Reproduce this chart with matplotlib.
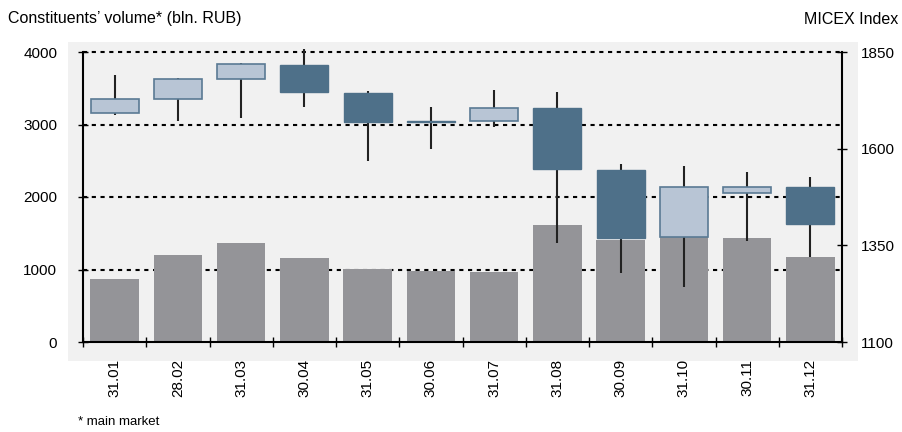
import matplotlib
matplotlib.use('Agg')
import matplotlib.pyplot as plt
import numpy as np
from matplotlib.patches import Rectangle

plt.rcParams['font.family'] = ['Liberation Sans', 'DejaVu Sans']

# ============================================================
# data
# ============================================================
dates = ['31.01', '28.02', '31.03', '30.04', '31.05', '30.06',
         '31.07', '31.08', '30.09', '31.10', '30.11', '31.12']
volume = [870, 1200, 1365, 1160, 1010, 980, 965, 1615, 1405, 1545, 1435, 1170]

idx_open = [1691, 1729, 1781, 1816, 1744, 1671, 1671, 1705, 1545, 1371, 1486, 1501]
idx_close = [1728, 1779, 1818, 1747, 1670, 1669, 1706, 1548, 1370, 1501, 1501, 1406]
idx_high = [1790, 1783, 1822, 1857, 1748, 1707, 1752, 1746, 1560, 1554, 1540, 1527]
idx_low = [1687, 1672, 1680, 1707, 1569, 1600, 1655, 1356, 1279, 1241, 1362, 1320]

vol_ticks = [0, 1000, 2000, 3000, 4000]
idx_ticks = [1100, 1350, 1600, 1850]

BG = '#f1f1f1'
GRAY = '#949498'
DARK = '#4e7089'
LIGHT = '#b8c5d5'
LIGHT_EDGE = '#5a7a94'

fig = plt.figure(figsize=(9.02, 4.32), dpi=100)
fig.patches.append(Rectangle((68 / 902, 71 / 432), 790 / 902, 319 / 432,
                             transform=fig.transFigure, facecolor=BG,
                             edgecolor='none', zorder=-5))

ax = fig.add_axes([83 / 902, 90 / 432, 759 / 902, 290 / 432])
ax.set_facecolor(BG)
x = np.arange(len(dates))

# volume bars
ax.bar(x, volume, width=0.77, color=GRAY, zorder=2)
ax.set_xlim(-0.5, len(dates) - 0.5)
ax.set_ylim(0, 4000)
ax.set_yticks(vol_ticks)
ax.set_yticklabels([str(v) for v in vol_ticks], fontsize=11)
ax.set_axisbelow(True)
for v in vol_ticks[1:]:
    ax.axhline(v, color='black', linestyle=(0, (2, 2.2)), linewidth=1.5,
               zorder=1, clip_on=False)

ax.set_xticks(np.arange(-0.5, len(dates), 1.0))
ax.set_xticklabels([])
ax.set_xticks(x, minor=True)
ax.set_xticklabels(dates, minor=True, rotation=90, fontsize=11)
ax.tick_params(axis='x', which='major', direction='inout', length=7, width=1)
ax.tick_params(axis='x', which='minor', length=0, pad=12)
ax.tick_params(axis='y', direction='inout', length=7, width=1, pad=15)
for s in ['top', 'right']:
    ax.spines[s].set_visible(False)
ax.spines['left'].set_linewidth(1.5)
ax.spines['bottom'].set_linewidth(1.5)

# candles on the index axis
ax2 = ax.twinx()
ax2.set_ylim(1100, 1850)
ax2.set_yticks(idx_ticks)
ax2.set_yticklabels([str(v) for v in idx_ticks], fontsize=11)
ax2.tick_params(axis='y', direction='inout', length=7, width=1, pad=10)
for s in ['top', 'left', 'bottom']:
    ax2.spines[s].set_visible(False)
ax2.spines['right'].set_linewidth(1.5)

ax2.vlines(x, idx_low, idx_high, color='#222222', linewidth=1.5, zorder=2,
           clip_on=False)
for i in range(len(dates)):
    o, c = idx_open[i], idx_close[i]
    lo = min(o, c)
    h = max(abs(c - o), 1.5)
    if c >= o:
        ax2.bar(x[i], h, bottom=lo, width=0.76, color=LIGHT,
                edgecolor=LIGHT_EDGE, linewidth=1.2, zorder=3)
    else:
        ax2.bar(x[i], h, bottom=lo, width=0.76, color=DARK,
                edgecolor=DARK, linewidth=1.0, zorder=3)

fig.text(8 / 902, 1 - 19 / 432, 'Constituents\u2019 volume* (bln. RUB)',
         fontsize=11.5, ha='left', va='center')
fig.text(898 / 902, 1 - 19 / 432, 'MICEX Index', fontsize=11.5,
         ha='right', va='center')
fig.text(78 / 902, 1 - 422 / 432, '* main market', fontsize=9.5,
         ha='left', va='center')

plt.savefig('out.png', dpi=100)
